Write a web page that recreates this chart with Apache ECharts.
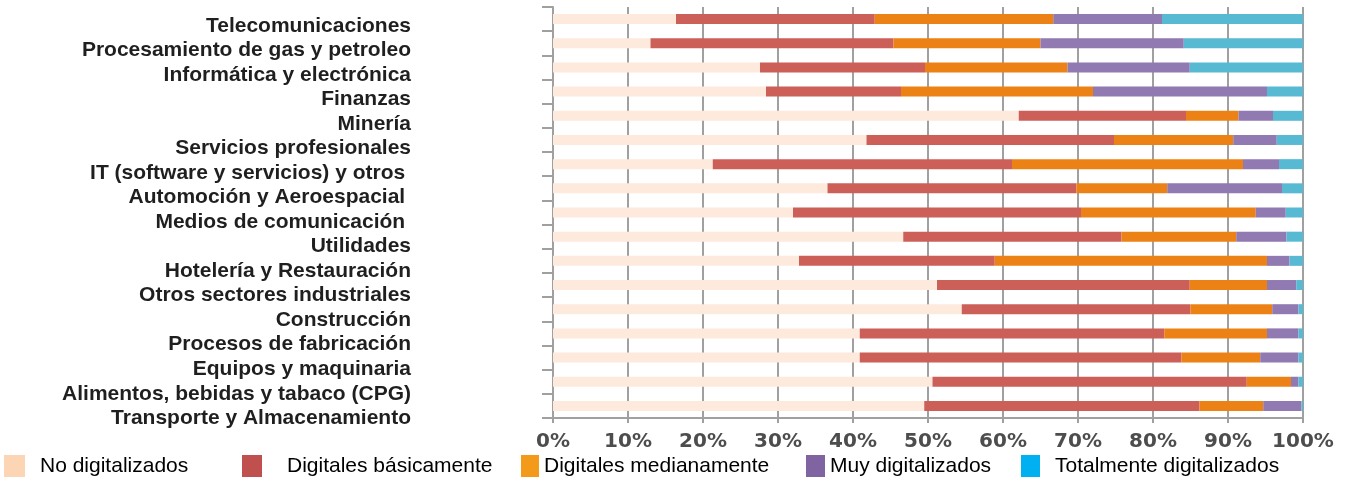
<!DOCTYPE html>
<html>
<head>
<meta charset="utf-8">
<script src="https://cdn.jsdelivr.net/npm/echarts@6/dist/echarts.min.js"></script>
<style>html,body{margin:0;padding:0;background:#fff}#c{width:1353px;height:477px}</style>
</head>
<body>
<div id="c"></div>
<script>
const categories = [
  "Telecomunicaciones",
  "Procesamiento de gas y petroleo",
  "Informática y electrónica",
  "Finanzas",
  "Minería",
  "Servicios profesionales",
  "IT (software y servicios) y otros ",
  "Automoción y Aeroespacial ",
  "Medios de comunicación ",
  "Utilidades",
  "Hotelería y Restauración",
  "Otros sectores industriales",
  "Construcción",
  "Procesos de fabricación",
  "Equipos y maquinaria",
  "Alimentos, bebidas y tabaco (CPG)",
  "Transporte y Almacenamiento"
];
const seriesNames = ["No digitalizados", "Digitales básicamente", "Digitales medianamente", "Muy digitalizados", "Totalmente digitalizados"];
const noDigitalizados      = [16.4, 13.0, 27.6, 28.4, 62.1, 41.8, 21.3, 36.6, 32.0, 46.7, 32.8, 51.2, 54.5, 40.9, 40.9, 50.6, 49.5];
const digitalesBasicamente = [26.5, 32.4, 22.0, 18.0, 22.3, 33.0, 39.9, 33.2, 38.4, 29.1, 26.1, 33.7, 30.5, 40.6, 42.9, 41.9, 36.7];
const digitalesMedianamente= [23.8, 19.6, 19.0, 25.6,  7.0, 15.9, 30.8, 12.1, 23.3, 15.3, 36.3, 10.3, 10.9, 13.7, 10.5,  5.9,  8.5];
const muyDigitalizados     = [14.5, 19.1, 16.3, 23.2,  4.6,  5.8,  4.8, 15.3,  4.0,  6.7,  3.0,  3.9,  3.5,  4.2,  5.1,  1.0,  5.1];
const totalmenteDigitalizados = [18.8, 15.9, 15.1, 4.8, 4.0, 3.5, 3.2, 2.8, 2.3, 2.2, 1.8, 0.9, 0.6, 0.6, 0.6, 0.6, 0.2];
const xTicks = [0, 10, 20, 30, 40, 50, 60, 70, 80, 90, 100];

const barColors = ["#fdeadc", "#cd5f59", "#ec8216", "#9179b1", "#58b9d3"];
const legendColors = ["#fcd5b4", "#c0504d", "#f39a1a", "#8064a2", "#00b0f0"];
const values = [noDigitalizados, digitalesBasicamente, digitalesMedianamente, muyDigitalizados, totalmenteDigitalizados];

const legendPos = [
  {left: 4, w: 21, pad: 10},
  {left: 242, w: 20, pad: 20},
  {left: 521, w: 18, pad: 0},
  {left: 806, w: 19, pad: 0},
  {left: 1021, w: 19, pad: 10}
];

const chart = echarts.init(document.getElementById('c'), null, {renderer: 'canvas'});
const option = {
  animation: false,
  backgroundColor: '#fff',
  grid: [
    {left: 553, right: 50, top: 7, bottom: 59, containLabel: false},
    {left: 553, right: 50, top: 13.5, bottom: 46.5, containLabel: false}
  ],
  legend: seriesNames.map((n, i) => ({
    data: [{name: n, itemStyle: {color: legendColors[i]}}],
    left: legendPos[i].left,
    top: 455,
    itemWidth: legendPos[i].w,
    itemHeight: 22,
    icon: 'rect',
    selectedMode: false,
    padding: 0,
    textStyle: {fontFamily: 'Liberation Sans, Arial, sans-serif', fontSize: 21, color: '#000', padding: [0, 0, 0, legendPos[i].pad]}
  })),
  xAxis: [
    {
      type: 'value', gridIndex: 0, min: 0, max: 100, interval: 10,
      axisLine: {show: true, lineStyle: {color: '#a0a0a0', width: 2}},
      axisTick: {show: true, length: 5, lineStyle: {color: '#a0a0a0', width: 2}},
      splitLine: {show: true, lineStyle: {color: '#a0a0a0', width: 2}},
      axisLabel: {
        formatter: v => xTicks.includes(v) ? v + '%' : '',
        fontFamily: 'DejaVu Sans, Verdana, sans-serif', fontWeight: 'bold', fontSize: 20, color: '#4d4d4d', margin: 14
      }
    },
    {type: 'value', gridIndex: 1, min: 0, max: 100, show: false}
  ],
  yAxis: [
    {
      type: 'category', gridIndex: 0, data: categories, inverse: true,
      axisLine: {show: true, lineStyle: {color: '#a0a0a0', width: 2}},
      axisTick: {show: true, length: 11, lineStyle: {color: '#a0a0a0', width: 2}},
      axisLabel: {show: false}
    },
    {
      type: 'category', gridIndex: 1, data: categories, inverse: true,
      axisLine: {show: false}, axisTick: {show: false},
      axisLabel: {
        show: true, interval: 0, margin: 142,
        fontFamily: 'Liberation Sans, Arial, sans-serif', fontWeight: 'bold', fontSize: 21, color: '#1f1f1f'
      }
    }
  ],
  series: seriesNames.map((n, i) => ({
    name: n, type: 'bar', stack: 'total', xAxisIndex: 0, yAxisIndex: 0,
    barWidth: 10,
    itemStyle: {color: barColors[i]},
    data: values[i]
  }))
};
chart.setOption(option);
</script>
</body>
</html>
